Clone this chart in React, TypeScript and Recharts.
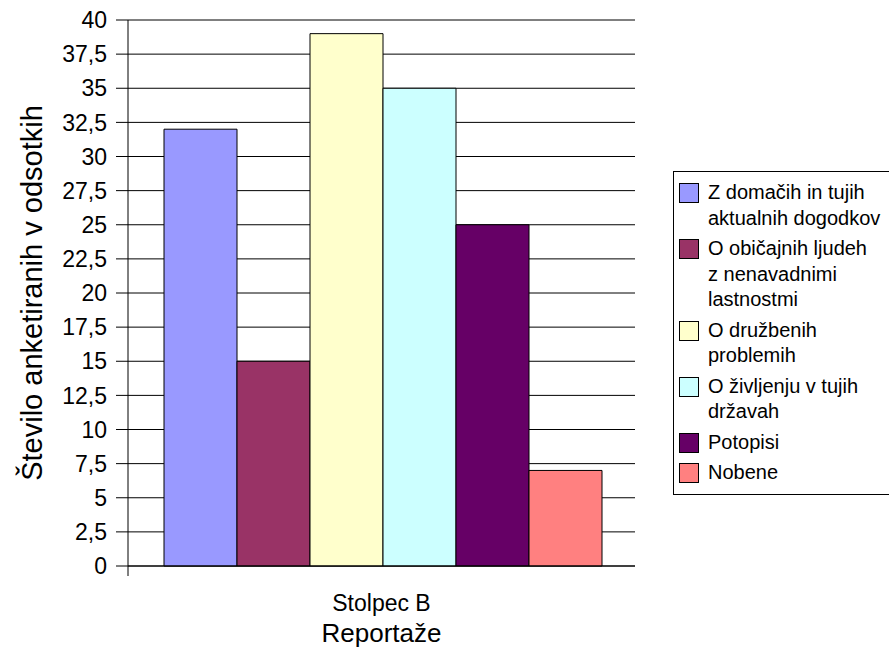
import React from 'react';
import { BarChart, Bar, XAxis, YAxis, CartesianGrid, Legend, Label } from 'recharts';

const categories = ['Stolpec B'];
const seriesNames = [
  'Z domačih in tujih\naktualnih dogodkov',
  'O običajnih ljudeh\nz nenavadnimi\nlastnostmi',
  'O družbenih\nproblemih',
  'O življenju v tujih\ndržavah',
  'Potopisi',
  'Nobene',
];
const seriesValues = [[32], [15], [39], [35], [25], [7]];
const seriesColors = ['#9999FF', '#993366', '#FFFFCC', '#CCFFFF', '#660066', '#FF8080'];
const yTicks = [0, 2.5, 5, 7.5, 10, 12.5, 15, 17.5, 20, 22.5, 25, 27.5, 30, 32.5, 35, 37.5, 40];
const yTitle = 'Število anketiranih v odsotkih';
const xTitle = 'Reportaže';

const FONT = '"Liberation Sans", Arial, sans-serif';

const data = categories.map((c, i) => {
  const row: Record<string, any> = { name: c };
  seriesNames.forEach((_, j) => {
    row['s' + j] = seriesValues[j][i];
  });
  return row;
});

const XTick = (props: any) => {
  const { x, y, payload } = props;
  const off = payload && typeof payload.offset === 'number' ? payload.offset : 0;
  return (
    <g>
      {off ? <line x1={x - off} x2={x - off} y1={y} y2={y + 10} stroke="#000" strokeWidth={1} /> : null}
      <text x={x} y={y + 45} textAnchor="middle" fontSize={23} fontFamily={FONT} fill="#000">
        {payload.value}
      </text>
    </g>
  );
};

const YTitle = (props: any) => {
  const vb = props.viewBox || { x: 0, y: 20, width: 128, height: 546 };
  const x = vb.x + 42;
  const y = vb.y + vb.height / 2;
  return (
    <text x={x} y={y} transform={`rotate(-90 ${x} ${y})`} textAnchor="middle" fontSize={29} fontFamily={FONT} fill="#000">
      {yTitle}
    </text>
  );
};

const XTitle = (props: any) => {
  const vb = props.viewBox || { x: 128, y: 566, width: 507, height: 82 };
  return (
    <text x={vb.x + vb.width / 2} y={vb.y + 76} textAnchor="middle" fontSize={26} fontFamily={FONT} fill="#000">
      {xTitle}
    </text>
  );
};

const LegendBox = () => (
  <div
    style={{
      border: '1px solid #000',
      width: 240,
      boxSizing: 'border-box',
      padding: '8px 0 8px 5px',
      background: '#fff',
      fontFamily: FONT,
      fontSize: 20,
      lineHeight: '25.5px',
      color: '#000',
    }}
  >
    {seriesNames.map((n, i) => (
      <div key={i} style={{ display: 'flex', alignItems: 'flex-start', marginTop: i ? 5 : 0 }}>
        <div
          style={{
            width: 20,
            height: 20,
            boxSizing: 'border-box',
            border: '1px solid #000',
            background: seriesColors[i],
            marginTop: 3,
            flexShrink: 0,
          }}
        />
        <div style={{ marginLeft: 9, whiteSpace: 'pre' }}>{n}</div>
      </div>
    ))}
  </div>
);

export default function App() {
  return (
    <div style={{ position: 'absolute', left: 0, top: 0, width: 889, height: 648, overflow: 'hidden', background: '#fff' }}>
      <BarChart
        width={889}
        height={648}
        data={data}
        margin={{ top: 20, right: 254, bottom: 0, left: 0 }}
        barCategoryGap={36}
        barGap={0}
      >
        <CartesianGrid vertical={false} stroke="#000" strokeWidth={1} />
        <XAxis
          dataKey="name"
          height={82}
          axisLine={{ stroke: '#000' }}
          tickLine={false}
          tickSize={0}
          tickMargin={0}
          tick={<XTick />}
          interval={0}
        >
          <Label content={<XTitle />} />
        </XAxis>
        <YAxis
          width={128}
          domain={[0, 40]}
          ticks={yTicks}
          interval={0}
          axisLine={{ stroke: '#000' }}
          tickLine={{ stroke: '#000' }}
          tickSize={12}
          tickMargin={9}
          tick={{ fontSize: 23, fontFamily: FONT, fill: '#000' }}
          tickFormatter={(v: number) => String(v).replace('.', ',')}
        >
          <Label content={<YTitle />} />
        </YAxis>
        <Legend
          layout="vertical"
          align="center"
          verticalAlign="middle"
          content={<LegendBox />}
          wrapperStyle={{ left: 673, top: 171, width: 240 }}
        />
        {seriesNames.map((n, j) => (
          <Bar
            key={j}
            dataKey={'s' + j}
            name={n}
            fill={seriesColors[j]}
            stroke="#000"
            strokeWidth={1}
            isAnimationActive={false}
          />
        ))}
      </BarChart>
    </div>
  );
}
